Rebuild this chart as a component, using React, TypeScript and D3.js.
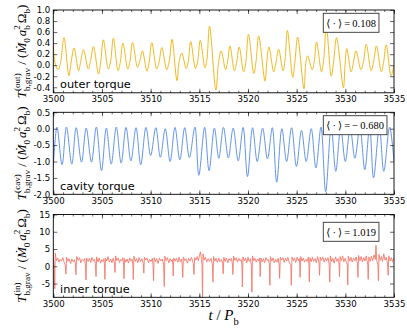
import * as d3 from "d3";
import { useEffect, useRef } from "react";

// time is stored as offset from T0 (in binary orbits)
const T0 = 3500;
const xTicks = [3500, 3505, 3510, 3515, 3520, 3525, 3530, 3535];
const xMinorTicks = d3.range(3500, 3536, 1);

const outerTicks = [-0.4, -0.2, 0, 0.2, 0.4, 0.6, 0.8, 1.0];
const cavityTicks = [-2, -1.5, -1, -0.5, 0, 0.5];
const innerTicks = [-5, 0, 5, 10, 15];

const panelNames = ["outer torque", "cavity torque", "inner torque"];
const panelSups = ["(out)", "(cav)", "(in)"];
const panelMeans = ["0.108", "\u2212\u20090.680", "1.019"];

const outerTorque: [number, number][] = [
  [0, 0.37], [0.2, 0.02], [0.5, -0.08], [0.75, 0.05], [1.1, 0.5],
  [1.6, -0.19], [1.82, 0.04], [2.13, 0.31],
  [2.6, -0.1], [2.8, 0.05], [3.1, 0.28],
  [3.6, -0.07], [3.82, 0.07], [4.12, 0.34],
  [4.65, -0.16], [4.86, 0.04], [5.14, 0.46],
  [5.65, -0.07], [5.88, 0.06], [6.17, 0.49],
  [6.65, -0.1], [6.88, 0.05], [7.15, 0.4],
  [7.65, -0.07], [7.87, 0.07], [8.15, 0.41],
  [8.65, -0.04], [8.88, 0.07], [9.15, 0.26],
  [9.62, -0.11], [9.84, 0.05], [10.12, 0.41],
  [10.62, -0.07], [10.86, 0.05], [11.15, 0.32],
  [11.65, -0.08], [11.9, 0.06], [12.2, 0.47],
  [12.7, -0.28], [12.93, 0.07], [13.2, 0.22],
  [13.65, -0.06], [13.86, 0.06], [14.12, 0.43],
  [14.6, -0.06], [14.82, 0.06], [15.1, 0.45],
  [15.58, -0.05], [15.78, 0.1], [16.05, 0.71],
  [16.7, -0.45], [16.98, 0.05], [17.25, 0.26],
  [17.7, -0.08], [17.9, 0.06], [18.15, 0.35],
  [18.6, -0.1], [18.83, 0.05], [19.1, 0.33],
  [19.55, -0.12], [19.78, 0.06], [20.05, 0.56],
  [20.6, -0.15], [20.83, 0.07], [21.1, 0.53],
  [21.75, -0.29], [21.93, 0.05], [22.15, 0.33],
  [22.65, -0.12], [22.88, 0.05], [23.15, 0.29],
  [23.6, -0.1], [23.8, 0.09], [24.05, 0.63],
  [24.6, -0.22], [24.83, 0.08], [25.1, 0.51],
  [25.75, -0.43], [25.93, 0.03], [26.12, 0.17],
  [26.6, -0.08], [26.8, 0.06], [27.05, 0.42],
  [27.55, -0.12], [27.78, 0.1], [28.05, 0.72],
  [28.55, -0.2], [28.8, 0.07], [29.1, 0.5],
  [29.8, -0.41], [29.97, 0.01], [30.15, 0.3],
  [30.6, -0.12], [30.83, 0.05], [31.1, 0.26],
  [31.6, -0.08], [31.86, 0.06], [32.15, 0.38],
  [32.65, -0.1], [32.9, 0.06], [33.2, 0.35],
  [33.7, -0.12], [33.93, 0.05], [34.2, 0.37],
  [34.7, -0.19], [35, 0.0],
];

const cavityTorque: [number, number][] = [
  [0, -1.18], [0.38, 0.05], [0.9, -1.1], [1.35, 0.05], [1.9, -1.08],
  [2.35, 0.03], [2.9, -1.02], [3.38, 0.02], [3.92, -1.02], [4.42, 0.05],
  [4.95, -1.28], [5.45, 0.02], [5.95, -1.08], [6.47, 0.05], [6.97, -1.05],
  [7.47, 0.04], [7.97, -0.98], [8.5, 0.03], [8.98, -1.1], [9.52, 0.04],
  [10.0, -0.82], [10.53, 0.03], [11.0, -0.87], [11.5, 0.0], [12.0, -1.0],
  [12.5, 0.04], [13.0, -0.95], [13.5, 0.03], [13.98, -0.88], [14.55, 0.05],
  [14.95, -1.42], [15.55, 0.04], [16.0, -1.28], [16.55, 0.02], [17.0, -0.9],
  [17.48, 0.04], [17.98, -0.89], [18.48, 0.02], [19.0, -0.98], [19.5, 0.04],
  [19.95, -1.46], [20.47, 0.03], [20.95, -1.0], [21.5, 0.02], [22.0, -0.92],
  [22.5, 0.03], [22.95, -1.63], [23.48, 0.0], [23.97, -1.0], [24.48, 0.03],
  [24.98, -1.15], [25.5, -0.05], [25.98, -1.0], [26.5, 0.0], [26.98, -1.2],
  [27.5, 0.05], [27.98, -1.92], [28.55, 0.04], [29.02, -1.3], [29.52, 0.02],
  [30.0, -1.0], [30.5, 0.03], [30.98, -0.9], [31.5, 0.03], [32.0, -1.25],
  [32.5, 0.05], [32.9, -1.5], [33.5, 0.04], [33.95, -1.3], [34.55, 0.05],
  [35, -1.0],
];

const innerTorque: [number, number][] = [
  [0, 2.2], [0.08, 1.0], [0.15, -6.5], [0.2, 3.8], [0.32, 1.6], [0.45, 2.4], [0.58, 1.2], [0.7, 2.0], [0.85, 1.5], [0.98, 2.5], [1.12, 1.1], [1.22, 0.4],
  [1.3, -2.3], [1.36, 2.6], [1.5, 1.5], [1.62, 2.2], [1.78, 0.8], [1.9, 2.1], [2.05, 1.3], [2.18, 1.9], [2.27, 0.6],
  [2.33, -2.5], [2.4, 2.8], [2.55, 1.7], [2.7, 2.5], [2.82, 1.0], [2.95, 2.0], [3.1, 1.6], [3.22, 2.2], [3.3, 0.3],
  [3.36, -4.0], [3.42, 2.4], [3.58, 1.4], [3.7, 2.3], [3.85, 1.1], [3.98, 2.6], [4.12, 1.5], [4.25, 2.0], [4.33, 0.5],
  [4.39, -3.0], [4.45, 2.7], [4.6, 1.3], [4.72, 2.4], [4.85, 0.9], [4.98, 1.9], [5.1, 1.4], [5.2, 2.2], [5.26, 0.2],
  [5.3, -3.8], [5.36, 2.3], [5.5, 1.5], [5.62, 2.8], [5.75, 1.2], [5.9, 2.1], [6.02, 1.0], [6.15, 2.3], [6.28, 0.9],
  [6.34, -1.8], [6.4, 3.0], [6.52, 1.6], [6.66, 2.4], [6.8, 1.1], [6.92, 2.0], [7.05, 1.6], [7.15, 2.5], [7.22, 0.4],
  [7.26, -3.6], [7.32, 2.2], [7.45, 1.2], [7.58, 2.1], [7.72, 0.9], [7.85, 2.4], [7.98, 1.5], [8.1, 2.0], [8.17, 0.3],
  [8.22, -3.8], [8.28, 2.9], [8.42, 1.4], [8.55, 2.2], [8.68, 1.0], [8.82, 2.5], [8.95, 1.3], [9.1, 2.2], [9.24, 0.8],
  [9.3, -2.0], [9.36, 2.6], [9.5, 1.8], [9.62, 2.4], [9.78, 1.0], [9.9, 2.0], [10.05, 1.4], [10.18, 2.3], [10.25, 0.2],
  [10.3, -4.2], [10.36, 2.5], [10.5, 1.3], [10.62, 2.2], [10.76, 0.8], [10.9, 2.4], [11.05, 1.5], [11.2, 2.1], [11.33, 0.6],
  [11.4, -5.9], [11.46, 2.9], [11.6, 1.6], [11.72, 2.5], [11.86, 1.0], [12.0, 2.2], [12.12, 1.4], [12.22, 2.0], [12.28, 0.5],
  [12.32, -2.8], [12.38, 2.4], [12.52, 1.5], [12.65, 2.3], [12.8, 1.1], [12.92, 2.6], [13.05, 1.3], [13.18, 2.1], [13.25, 0.4],
  [13.3, -3.2], [13.36, 2.7], [13.5, 1.6], [13.62, 2.2], [13.78, 0.9], [13.9, 2.3], [14.05, 1.5], [14.2, 2.6], [14.38, 0.8],
  [14.45, -2.4], [14.52, 2.5], [14.65, 1.8], [14.78, 2.8], [14.9, 1.6], [15.02, 3.2], [15.12, 4.2], [15.22, 2.0], [15.28, 0.5],
  [15.33, -9.5], [15.38, 3.6], [15.5, 1.8], [15.62, 2.6], [15.75, 1.2], [15.9, 2.2], [16.05, 1.4], [16.2, 2.3], [16.34, 0.6],
  [16.4, -4.6], [16.46, 2.8], [16.6, 1.5], [16.72, 2.3], [16.86, 1.1], [17.0, 2.4], [17.12, 1.3], [17.28, 2.0], [17.4, 0.7],
  [17.45, -2.2], [17.52, 2.6], [17.65, 1.4], [17.78, 2.4], [17.92, 1.0], [18.05, 2.2], [18.18, 1.6], [18.3, 2.3], [18.4, 0.6],
  [18.45, -2.4], [18.52, 2.9], [18.65, 1.7], [18.78, 2.5], [18.92, 1.2], [19.05, 2.3], [19.18, 1.5], [19.3, 2.0], [19.38, 0.3],
  [19.42, -6.0], [19.48, 2.7], [19.62, 1.5], [19.75, 2.4], [19.88, 1.0], [20.0, 2.6], [20.12, 1.4], [20.25, 2.2], [20.35, 0.2],
  [20.4, -7.5], [20.46, 3.0], [20.6, 1.6], [20.72, 2.3], [20.85, 1.2], [20.98, 2.1], [21.1, 1.5], [21.18, 2.4], [21.22, 0.6],
  [21.25, -3.0], [21.32, 2.4], [21.45, 1.3], [21.58, 2.2], [21.7, 1.0], [21.85, 2.5], [21.98, 1.6], [22.1, 2.0], [22.2, 0.4],
  [22.25, -5.5], [22.3, 2.8], [22.45, 1.5], [22.58, 2.4], [22.7, 1.0], [22.85, 2.0], [22.98, 1.2], [23.1, 2.3], [23.2, 0.5],
  [23.25, -3.5], [23.32, 2.6], [23.45, 1.8], [23.58, 2.5], [23.72, 1.1], [23.85, 2.3], [23.98, 1.5], [24.1, 2.6], [24.25, 1.0], [24.4, 0.4],
  [24.45, -5.5], [24.52, 2.7], [24.65, 1.6], [24.78, 2.4], [24.9, 1.1], [25.05, 2.6], [25.18, 1.6], [25.28, 2.2], [25.32, 0.5],
  [25.35, -3.2], [25.42, 2.8], [25.55, 1.5], [25.68, 2.4], [25.8, 1.2], [25.95, 2.0], [26.08, 1.4], [26.2, 2.6], [26.26, 0.6],
  [26.3, -4.6], [26.36, 2.5], [26.5, 1.3], [26.62, 2.6], [26.75, 1.4], [26.9, 2.2], [27.02, 1.0], [27.15, 2.8], [27.3, 0.9],
  [27.35, -2.6], [27.42, 2.6], [27.55, 1.7], [27.68, 2.7], [27.82, 1.2], [27.95, 2.4], [28.08, 1.5], [28.22, 2.5], [28.34, 0.6],
  [28.4, -4.6], [28.46, 3.0], [28.6, 1.4], [28.72, 2.3], [28.85, 0.9], [29.0, 2.7], [29.12, 1.4], [29.25, 2.2], [29.35, 0.7],
  [29.4, -3.0], [29.46, 2.8], [29.6, 1.6], [29.72, 3.0], [29.85, 1.3], [29.98, 2.3], [30.1, 1.2], [30.2, 0.5],
  [30.25, -5.4], [30.3, 2.9], [30.45, 1.5], [30.58, 2.6], [30.7, 1.2], [30.85, 2.4], [30.98, 1.5], [31.12, 2.7], [31.25, 0.6],
  [31.3, -3.2], [31.36, 3.1], [31.5, 1.6], [31.62, 2.8], [31.75, 1.3], [31.9, 2.5], [32.02, 1.5], [32.15, 3.0], [32.3, 0.5],
  [32.35, -3.8], [32.42, 2.7], [32.55, 1.4], [32.68, 2.9], [32.8, 1.6], [32.95, 3.3], [33.08, 2.0], [33.15, 6.1], [33.22, 1.8], [33.35, 0.4],
  [33.4, -4.2], [33.46, 3.4], [33.58, 1.7], [33.7, 2.8], [33.82, 1.4], [33.95, 3.6], [34.08, 1.8], [34.2, 2.6], [34.34, 0.8],
  [34.4, -2.6], [34.46, 3.0], [34.6, 1.5], [34.72, 2.5], [34.85, 1.3], [35, 2.4],
];

const SANS = "'DejaVu Sans', sans-serif";
const MATH = "'Liberation Serif', 'DejaVu Serif', serif";
const NB = "\u00a0";

// piece of a math label: plain run, or stacked sup/sub
type Run = { s?: string; it?: boolean; sub?: string; sup?: string; gap?: number };

function mathText(g: any, runs: Run[], size: number) {
  const small = size * 0.7;
  let pos = 0;
  const add = (txt: string, sz: number, dy: number, it?: boolean) => {
    const t = g
      .append("text")
      .attr("x", pos)
      .attr("y", dy)
      .style("font-family", MATH)
      .style("font-size", `${sz}px`)
      .style("font-style", it ? "italic" : "normal")
      .style("white-space", "pre")
      .attr("fill", "#000")
      .text(txt);
    return (t.node() as SVGTextElement).getComputedTextLength();
  };
  runs.forEach(r => {
    pos += r.gap || 0;
    if (r.s) {
      pos += add(r.s, size, 0, r.it);
    } else {
      let w = 0;
      if (r.sup) w = Math.max(w, add(r.sup, small, -size * 0.45));
      if (r.sub) w = Math.max(w, add(r.sub, small, size * 0.3));
      pos += w;
    }
  });
  return pos;
}

function App() {
  const ref = useRef<SVGSVGElement>(null);

  useEffect(() => {
    const svg = d3.select(ref.current);
    svg.selectAll("*").remove();

    const left = 53.3;
    const right = 394;
    const x = d3.scaleLinear().domain([3500, 3535]).range([left, right]);

    const panels = [
      { data: outerTorque, domain: [-0.5, 1.0], ticks: outerTicks, fmt: (v: number) => v.toFixed(1), top: 10, bottom: 92.8, color: "#f2b81e", boxTop: 3.3 },
      { data: cavityTorque, domain: [-2.0, 0.5], ticks: cavityTicks, fmt: (v: number) => v.toFixed(1), top: 112.3, bottom: 194.3, color: "#6394e8", boxTop: 3.4 },
      { data: innerTorque, domain: [-9, 15], ticks: innerTicks, fmt: (v: number) => String(v), top: 214.5, bottom: 297.3, color: "#f7786b", boxTop: 7.8 },
    ];

    panels.forEach((p, i) => {
      const y = d3.scaleLinear().domain(p.domain).range([p.bottom, p.top]);
      const g = svg.append("g");

      g.append("clipPath")
        .attr("id", `clip${i}`)
        .append("rect")
        .attr("x", left)
        .attr("y", p.top)
        .attr("width", right - left)
        .attr("height", p.bottom - p.top);

      // series
      const line = d3
        .line<[number, number]>()
        .x(d => x(T0 + d[0]))
        .y(d => y(d[1]))
        .curve(i === 2 ? d3.curveLinear : d3.curveCatmullRom.alpha(0.5));

      g.append("path")
        .datum(p.data)
        .attr("clip-path", `url(#clip${i})`)
        .attr("d", line)
        .attr("fill", "none")
        .attr("stroke", p.color)
        .attr("stroke-width", i === 2 ? 0.9 : 1.0)
        .attr("stroke-linejoin", "round");

      // axes, ticks pointing inwards on all four sides
      const styleAxis = (ax: any) => {
        ax.select(".domain").remove();
        ax.selectAll("line").attr("stroke", "#000").attr("stroke-width", 0.6);
        ax.selectAll("text").style("font-family", SANS).style("font-size", "8.6px").attr("fill", "#000");
      };

      g.append("g")
        .attr("transform", `translate(0,${p.bottom})`)
        .call(d3.axisBottom(x).tickValues(xMinorTicks).tickSize(-2).tickFormat(() => ""))
        .call(styleAxis);
      g.append("g")
        .attr("transform", `translate(0,${p.top})`)
        .call(d3.axisTop(x).tickValues(xMinorTicks).tickSize(-2).tickFormat(() => ""))
        .call(styleAxis);
      g.append("g")
        .attr("transform", `translate(0,${p.bottom})`)
        .call(d3.axisBottom(x).tickValues(xTicks).tickSize(-4).tickPadding(3.2).tickFormat(d3.format("d")))
        .call(styleAxis);
      g.append("g")
        .attr("transform", `translate(0,${p.top})`)
        .call(d3.axisTop(x).tickValues(xTicks).tickSize(-4).tickFormat(() => ""))
        .call(styleAxis);
      g.append("g")
        .attr("transform", `translate(${left},0)`)
        .call(d3.axisLeft(y).tickValues(p.ticks).tickSize(-4).tickPadding(3).tickFormat((v: any) => p.fmt(+v)))
        .call(styleAxis);
      g.append("g")
        .attr("transform", `translate(${right},0)`)
        .call(d3.axisRight(y).tickValues(p.ticks).tickSize(-4).tickFormat(() => ""))
        .call(styleAxis);

      g.append("rect")
        .attr("x", left)
        .attr("y", p.top)
        .attr("width", right - left)
        .attr("height", p.bottom - p.top)
        .attr("fill", "none")
        .attr("stroke", "#000")
        .attr("stroke-width", 0.9);

      // panel name
      g.append("text")
        .attr("x", 60)
        .attr("y", p.bottom - 4.4)
        .style("font-family", SANS)
        .style("font-size", "11.3px")
        .attr("fill", "#000")
        .text(panelNames[i]);

      // mean box
      const box = g.append("g");
      const bt = box
        .append("text")
        .attr("x", 326.3)
        .attr("y", p.top + p.boxTop + 13.2)
        .style("font-family", MATH)
        .style("font-size", "10.5px")
        .attr("fill", "#000")
        .text(`\u27e8\u2009\u00b7\u2009\u27e9\u2009=\u2009${panelMeans[i]}`);
      const tw = (bt.node() as SVGTextElement).getComputedTextLength();
      box.insert("rect", "text")
        .attr("x", 323.3)
        .attr("y", p.top + p.boxTop)
        .attr("width", tw + 6)
        .attr("height", 19)
        .attr("fill", "#fff")
        .attr("stroke", "#333")
        .attr("stroke-width", 0.9);

      // y label
      const lab = svg.append("g").attr("transform", `translate(26,${(p.top + p.bottom) / 2}) rotate(-90)`);
      const inner = lab.append("g");
      const total = mathText(
        inner,
        [
          { s: "T", it: true },
          { sup: panelSups[i], sub: "b,grav" },
          { s: `${NB}/${NB}(` },
          { s: "\u1e40", it: true },
          { sub: "0" },
          { s: "a", it: true, gap: 2 },
          { sup: "2", sub: "b" },
          { s: "\u03a9", gap: 2 },
          { sub: "b" },
          { s: ")" },
        ],
        13
      );
      inner.attr("transform", `translate(${-total / 2},0)`);
    });

    // x label
    const xl = svg.append("g").attr("transform", `translate(${(left + right) / 2},320)`);
    const xin = xl.append("g");
    const xw = mathText(
      xin,
      [
        { s: "t", it: true },
        { s: `${NB}/${NB}` },
        { s: "P", it: true },
        { sub: "b" },
      ],
      15
    );
    xin.attr("transform", `translate(${-xw / 2},0)`);
  }, []);

  return (
    <svg
      ref={ref}
      width={407}
      height={331}
      style={{ position: "absolute", left: 0, top: 0, background: "#fff" }}
    />
  );
}

export default App;
